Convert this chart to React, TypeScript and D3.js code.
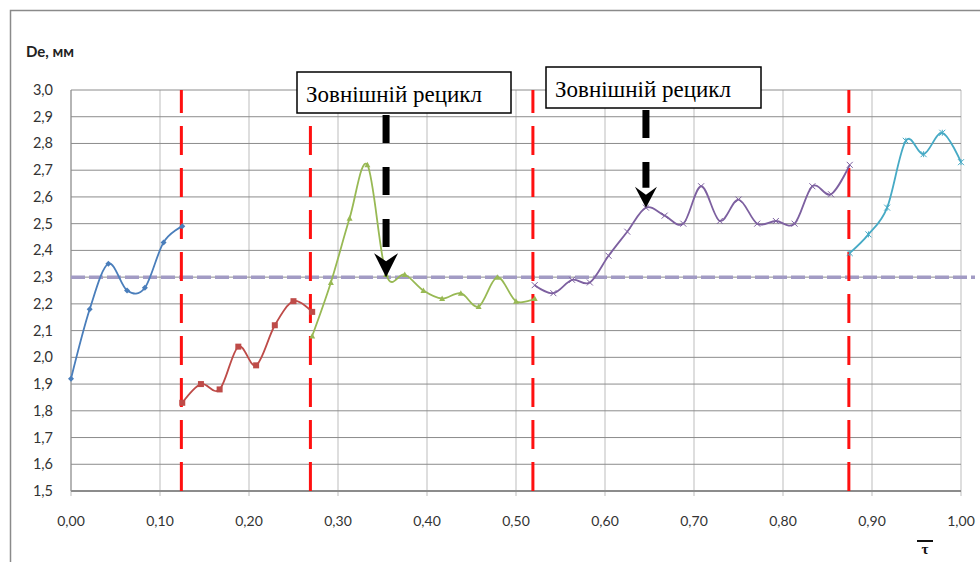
import React from "react";
import * as d3 from "d3";

// De, мм over dimensionless time tau, five stages split by red dashed lines
const tau1 = [0.0, 0.021, 0.042, 0.063, 0.083, 0.104, 0.125];
const de1 = [1.92, 2.18, 2.35, 2.25, 2.26, 2.43, 2.49];

const tau2 = [0.125, 0.146, 0.167, 0.188, 0.208, 0.229, 0.25, 0.271];
const de2 = [1.83, 1.9, 1.88, 2.04, 1.97, 2.12, 2.21, 2.17];

const tau3 = [0.271, 0.292, 0.313, 0.333, 0.354, 0.375, 0.396, 0.417, 0.438, 0.458, 0.479, 0.5, 0.521];
const de3 = [2.08, 2.28, 2.52, 2.72, 2.31, 2.31, 2.25, 2.22, 2.24, 2.19, 2.3, 2.21, 2.22];

const tau4 = [0.521, 0.542, 0.563, 0.583, 0.604, 0.625, 0.646, 0.667, 0.688, 0.708, 0.729, 0.75, 0.771, 0.792, 0.813, 0.833, 0.854, 0.875];
const de4 = [2.27, 2.24, 2.29, 2.28, 2.38, 2.47, 2.56, 2.53, 2.5, 2.64, 2.51, 2.59, 2.5, 2.51, 2.5, 2.64, 2.61, 2.72];

const tau5 = [0.875, 0.896, 0.917, 0.938, 0.958, 0.979, 1.0];
const de5 = [2.39, 2.46, 2.56, 2.81, 2.76, 2.84, 2.73];

const stageBounds = [0.124, 0.269, 0.519, 0.874];
const refLevel = 2.3;

const xTicks = [0, 0.1, 0.2, 0.3, 0.4, 0.5, 0.6, 0.7, 0.8, 0.9, 1.0];
const yTicks = [1.5, 1.6, 1.7, 1.8, 1.9, 2.0, 2.1, 2.2, 2.3, 2.4, 2.5, 2.6, 2.7, 2.8, 2.9, 3.0];

// annotation arrows point at these points
const notes = [
  { label: "Зовнішній рецикл", tau: 0.354, de: 2.3, box: [297, 72, 214, 41] },
  { label: "Зовнішній рецикл", tau: 0.646, de: 2.56, box: [546, 67, 215, 41] },
];

const series = [
  { x: tau1, y: de1, color: "#4a7ebb", marker: "diamond" },
  { x: tau2, y: de2, color: "#be4b48", marker: "square" },
  { x: tau3, y: de3, color: "#98b954", marker: "triangle" },
  { x: tau4, y: de4, color: "#7d60a0", marker: "x" },
  { x: tau5, y: de5, color: "#46aac5", marker: "star" },
];

const W = 980;
const H = 562;
const left = 71, right = 961, top = 90, bottom = 491;
const serif = "'Liberation Serif', 'DejaVu Serif', serif";

const comma = (v: number, d: number) => v.toFixed(d).replace(".", ",");

function Marker({ type, cx, cy, color }: { type: string; cx: number; cy: number; color: string }) {
  const s = 3;
  if (type === "diamond")
    return <path d={`M${cx},${cy - s}L${cx + s},${cy}L${cx},${cy + s}L${cx - s},${cy}Z`} fill={color} />;
  if (type === "square")
    return <rect x={cx - s} y={cy - s} width={s * 2} height={s * 2} fill={color} />;
  if (type === "triangle")
    return <path d={`M${cx},${cy - s}L${cx + s},${cy + s - 0.5}L${cx - s},${cy + s - 0.5}Z`} fill={color} />;
  if (type === "x")
    return <path d={`M${cx - s},${cy - s}L${cx + s},${cy + s}M${cx - s},${cy + s}L${cx + s},${cy - s}`} stroke={color} strokeWidth={1} />;
  return (
    <path
      d={`M${cx - s},${cy - s}L${cx + s},${cy + s}M${cx - s},${cy + s}L${cx + s},${cy - s}M${cx},${cy - s}L${cx},${cy + s}`}
      stroke={color}
      strokeWidth={1}
    />
  );
}

export default function App() {
  const x = d3.scaleLinear().domain([0, 1]).range([left, right]);
  const y = d3.scaleLinear().domain([1.5, 3.0]).range([bottom, top]);

  const line = d3
    .line<[number, number]>()
    .x((d) => x(d[0]))
    .y((d) => y(d[1]))
    .curve(d3.curveCardinal.tension(0));

  return (
    <div style={{ position: "fixed", left: 0, top: 0 }}>
      <svg width={W} height={H} style={{ display: "block", background: "#fff" }}>
        <rect x={10.5} y={10.5} width={1000} height={600} fill="none" stroke="#8a8a8a" strokeWidth={1.5} />

        {/* grid */}
        {xTicks.map((t) => (
          <line key={"vx" + t} x1={x(t)} x2={x(t)} y1={top} y2={bottom + 5} stroke="#bdbdbd" strokeWidth={1} />
        ))}
        {yTicks.map((t) => (
          <line key={"hy" + t} x1={left} x2={right} y1={y(t)} y2={y(t)} stroke="#8c8c8c" strokeWidth={t === 1.5 ? 2 : 1} />
        ))}
        <line x1={left} x2={left} y1={top} y2={bottom} stroke="#8c8c8c" strokeWidth={1} />

        {/* tick labels */}
        {yTicks.map((t) => (
          <text key={"yl" + t} x={53} y={y(t) + 5} textAnchor="end" fontFamily="Lato" fontSize={14.5} fill="#333">
            {comma(t, 1)}
          </text>
        ))}
        {xTicks.map((t) => (
          <text key={"xl" + t} x={x(t)} y={526} textAnchor="middle" fontFamily="Lato" fontSize={14} fill="#333">
            {comma(t, 2)}
          </text>
        ))}
        <text x={26} y={57} fontFamily="Lato" fontWeight={700} fontSize={15} fill="#222">
          De, мм
        </text>
        <line x1={917} x2={933} y1={541} y2={541} stroke="#111" strokeWidth={2} />
        <text x={925} y={554} textAnchor="middle" fontFamily={serif} fontWeight={700} fontSize={15} fill="#111">
          τ
        </text>

        {/* reference level */}
        <line x1={left} x2={975} y1={y(refLevel)} y2={y(refLevel)} stroke="#a29bc4" strokeWidth={3.5} strokeDasharray="14 4" />

        {/* stage boundaries */}
        {stageBounds.map((b) => (
          <line key={"b" + b} x1={x(b)} x2={x(b)} y1={bottom} y2={top} stroke="#ff1010" strokeWidth={3} strokeDasharray="29 13" />
        ))}

        {/* series */}
        {series.map((s, i) => {
          const pts = s.x.map((t, j) => [t, s.y[j]] as [number, number]);
          return (
            <g key={"s" + i}>
              <path d={line(pts) || ""} fill="none" stroke={s.color} strokeWidth={1.8} />
              {pts.map((p, j) => (
                <Marker key={j} type={s.marker} cx={x(p[0])} cy={y(p[1])} color={s.color} />
              ))}
            </g>
          );
        })}

        {/* annotations */}
        {notes.map((n, i) => {
          const [bx, by, bw, bh] = n.box;
          const ax = x(n.tau);
          const tipY = y(n.de);
          const headH = i === 0 ? 24 : 21;
          const headW = i === 0 ? 12 : 11;
          return (
            <g key={"n" + i}>
              <rect x={bx} y={by} width={bw} height={bh} fill="#fff" stroke="#000" strokeWidth={1.5} />
              <text x={bx + 9} y={by + 30} fontFamily={serif} fontSize={23} fill="#000">
                {n.label}
              </text>
              <line
                x1={ax}
                x2={ax}
                y1={by + bh + 2}
                y2={tipY - headH + 1}
                stroke="#000"
                strokeWidth={7}
                strokeDasharray="28 24"
              />
              <path
                d={`M${ax - headW},${tipY - headH}L${ax},${tipY - headH + 8}L${ax + headW},${tipY - headH}L${ax},${tipY}Z`}
                fill="#000"
              />
            </g>
          );
        })}
      </svg>
    </div>
  );
}
